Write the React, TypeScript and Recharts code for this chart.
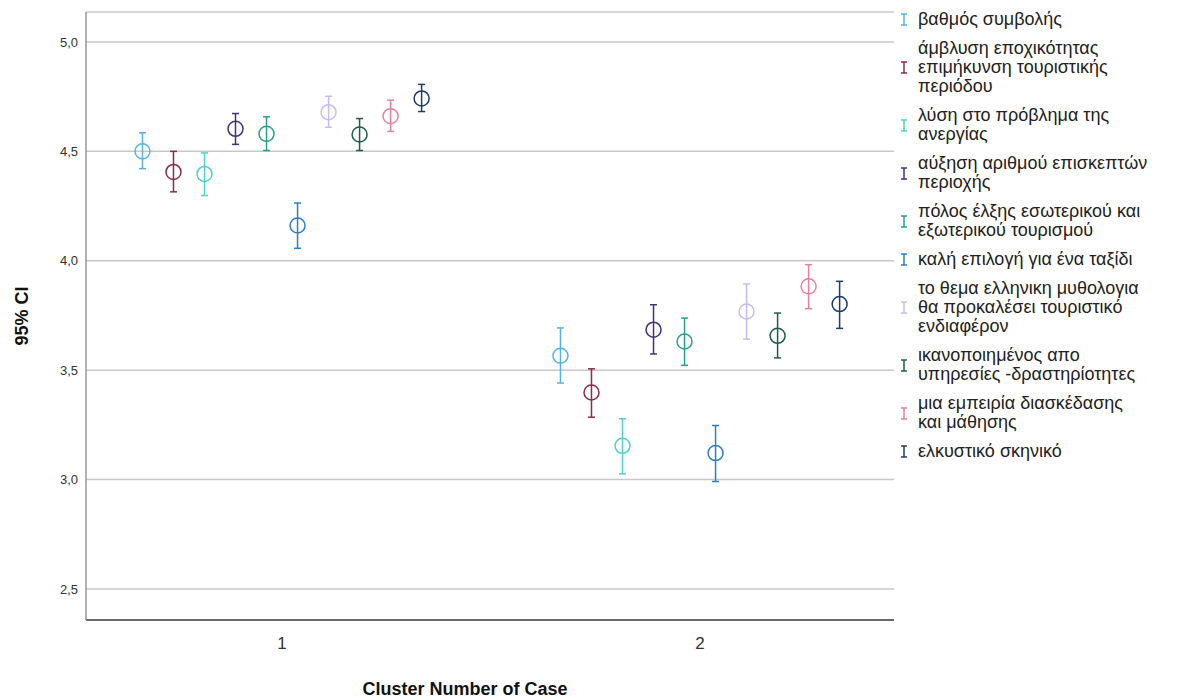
import React from "react";
import {
  ComposedChart,
  Scatter,
  ErrorBar,
  XAxis,
  YAxis,
  CartesianGrid,
  Legend,
} from "recharts";

// cluster numbers on the x axis
const clusters = [1, 2];

const seriesNames = [
  "βαθμός συμβολής",
  "άμβλυση εποχικότητας\nεπιμήκυνση τουριστικής\nπεριόδου",
  "λύση στο πρόβλημα της\nανεργίας",
  "αύξηση αριθμού επισκεπτών\nπεριοχής",
  "πόλος έλξης εσωτερικού και\nεξωτερικού τουρισμού",
  "καλή επιλογή για ένα ταξίδι",
  "το θεμα ελληνικη μυθολογια\nθα προκαλέσει τουριστικό\nενδιαφέρον",
  "ικανοποιημένος απο\nυπηρεσίες -δραστηρίοτητες",
  "μια εμπειρία διασκέδασης\nκαι μάθησης",
  "ελκυστικό σκηνικό",
];

const seriesColors = [
  "#56b2e4",
  "#8b2b4b",
  "#4fd3c6",
  "#4a2d7f",
  "#27a08a",
  "#2d7dc6",
  "#c9bbf2",
  "#1e5c48",
  "#ea7f9b",
  "#1d3d66",
];

// means and 95% CI bounds, cluster 1
const meanC1 = [4.5, 4.406, 4.397, 4.603, 4.58, 4.161, 4.679, 4.577, 4.661, 4.742];
const lowC1 = [4.421, 4.315, 4.298, 4.532, 4.504, 4.057, 4.61, 4.504, 4.591, 4.682];
const highC1 = [4.585, 4.5, 4.493, 4.673, 4.658, 4.264, 4.752, 4.65, 4.734, 4.806];

// cluster 2
const meanC2 = [3.566, 3.398, 3.154, 3.685, 3.631, 3.121, 3.768, 3.657, 3.883, 3.802];
const lowC2 = [3.441, 3.285, 3.026, 3.574, 3.522, 2.991, 3.642, 3.556, 3.781, 3.691];
const highC2 = [3.693, 3.506, 3.278, 3.799, 3.738, 3.247, 3.894, 3.761, 3.982, 3.906];

const yTicks = [2.5, 3.0, 3.5, 4.0, 4.5, 5.0];

const means = [meanC1, meanC2];
const lows = [lowC1, lowC2];
const highs = [highC1, highC2];

const DODGE = 0.0742;
const FONT = '"Liberation Sans", Arial, sans-serif';

function seriesData(i: number) {
  return clusters.map((c, k) => ({
    x: c + (i - (seriesNames.length - 1) / 2) * DODGE,
    y: means[k][i],
    err: [means[k][i] - lows[k][i], highs[k][i] - means[k][i]],
  }));
}

function BarIcon({ color }: { color: string }) {
  return (
    <svg width={8} height={13} style={{ flex: "none", marginRight: 10 }}>
      <line x1={1} y1={1} x2={7} y2={1} stroke={color} strokeWidth={1.5} />
      <line x1={4} y1={1} x2={4} y2={12} stroke={color} strokeWidth={1.5} />
      <line x1={1} y1={12} x2={7} y2={12} stroke={color} strokeWidth={1.5} />
    </svg>
  );
}

function LegendBox() {
  return (
    <div style={{ fontFamily: FONT, fontSize: 18, color: "#222" }}>
      {seriesNames.map((name, i) => (
        <div
          key={i}
          style={{ display: "flex", alignItems: "center", marginBottom: 10 }}
        >
          <BarIcon color={seriesColors[i]} />
          <span style={{ whiteSpace: "pre-line", lineHeight: "19px" }}>{name}</span>
        </div>
      ))}
    </div>
  );
}

export default function App() {
  return (
    <ComposedChart
      width={1182}
      height={690}
      margin={{ top: 4, right: 296, left: 0, bottom: 0 }}
      style={{ fontFamily: FONT }}
    >
      <CartesianGrid
        horizontal
        vertical={false}
        stroke="#c8c8c8"
        strokeWidth={1.5}
      />
      <XAxis
        type="number"
        dataKey="x"
        domain={[0.531, 2.464]}
        ticks={clusters}
        allowDataOverflow
        height={78}
        stroke="#444"
        strokeWidth={1.5}
        tickLine={false}
        tickMargin={11}
        tick={{ fontSize: 17, fill: "#333" }}
        label={{
          value: "Cluster Number of Case",
          position: "insideBottom",
          offset: 3,
          dx: -25,
          style: { fontSize: 18, fontWeight: "bold", fill: "#111" },
        }}
      />
      <YAxis
        type="number"
        dataKey="y"
        domain={[2.358, 5.137]}
        ticks={yTicks}
        allowDataOverflow
        width={78}
        stroke="#999"
        strokeWidth={1.5}
        tickLine={false}
        tickMargin={2}
        tick={{ fontSize: 13, fill: "#333" }}
        tickFormatter={(v: number) => v.toFixed(1).replace(".", ",")}
        label={{
          value: "95% CI",
          angle: -90,
          position: "insideLeft",
          offset: 14,
          style: { fontSize: 18, fontWeight: "bold", fill: "#111", textAnchor: "middle" },
        }}
      />
      {seriesNames.map((name, i) => (
        <Scatter
          key={i}
          name={name}
          data={seriesData(i)}
          isAnimationActive={false}
          shape={(p: any) => (
            <circle
              cx={p.cx}
              cy={p.cy}
              r={7.5}
              fill="none"
              stroke={seriesColors[i]}
              strokeWidth={1.5}
            />
          )}
        >
          <ErrorBar
            dataKey="err"
            direction="y"
            width={3.5}
            stroke={seriesColors[i]}
            strokeWidth={1.5}
            isAnimationActive={false}
          />
        </Scatter>
      ))}
      <Legend
        layout="vertical"
        align="center"
        verticalAlign="middle"
        content={() => <LegendBox />}
        wrapperStyle={{ left: 892, top: 2, width: 290, height: "auto" }}
      />
    </ComposedChart>
  );
}
